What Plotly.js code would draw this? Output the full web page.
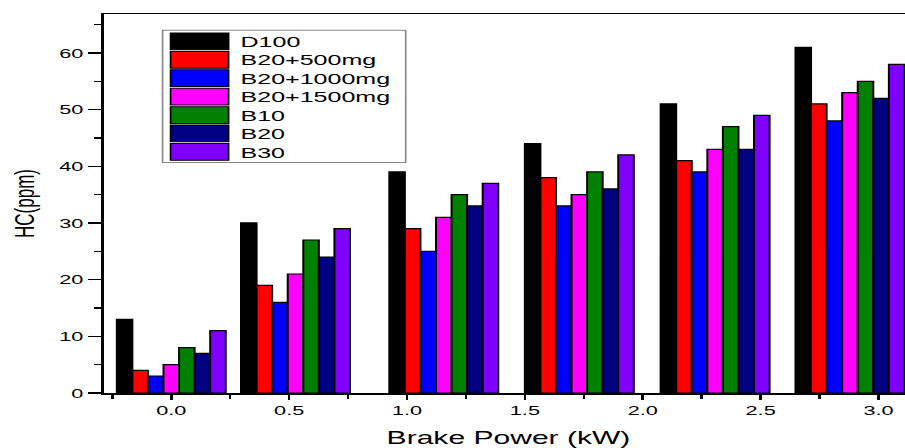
<!DOCTYPE html>
<html><head><meta charset="utf-8">
<script src="https://cdn.plot.ly/plotly-3.0.1.min.js"></script>
<style>
html,body{margin:0;padding:0;overflow:hidden;background:#fff;}
#chart{width:547px;height:448px;transform:scaleX(1.67);transform-origin:0 0;}
</style></head><body>
<div id="chart"></div>
<script>
// ---- data ----
const brakePower = [0, 0.527, 1.156, 1.731, 2.307, 2.879];
const seriesNames = ['D100', 'B20+500mg', 'B20+1000mg', 'B20+1500mg', 'B10', 'B20', 'B30'];
const seriesColors = ['#000000', '#ff0000', '#0000ff', '#ff00ff', '#008000', '#000080', '#8000ff'];
const d100     = [13, 30, 39, 44, 51, 61];
const b20_500  = [4, 19, 29, 38, 41, 51];
const b20_1000 = [3, 16, 25, 33, 39, 48];
const b20_1500 = [5, 21, 31, 35, 43, 53];
const b10      = [8, 27, 35, 39, 47, 55];
const b20      = [7, 24, 33, 36, 43, 52];
const b30      = [11, 29, 37, 42, 49, 58];
const xTickVals = [0, 0.5, 1, 1.5, 2, 2.5, 3];
const xTickText = ['0.0', '0.5', '1.0', '1.5', '2.0', '2.5', '3.0'];
const yTickVals = [0, 10, 20, 30, 40, 50, 60];
const xTitle = 'Brake Power (kW)';
const yTitle = 'HC(ppm)';
const seriesValues = [d100, b20_500, b20_1000, b20_1500, b10, b20, b30];

// ---- geometry ----
const K = 1.67, W = 547, H = 448;
const L = 104 / K, T = 13.7, B = 55;
const plotW = W - L, plotH = H - T - B;
const pxPerUnit = 235.6;            // screen px per x unit
const x0 = (104 - 171.7) / pxPerUnit;
const x1 = x0 + plotW * K / pxPerUnit;
const yMax = plotH / 5.672;
const FONT = 'Arial, "Liberation Sans", sans-serif';

const traces = seriesNames.map((name, i) => ({
  type: 'bar', name: name, x: brakePower, y: seriesValues[i],
  marker: {color: seriesColors[i], line: {color: '#000', width: 1.2}},
  showlegend: false, hoverinfo: 'skip'
}));

// legend drawn as shapes + annotations (screen px -> paper)
const sx = p => (p / K - L) / plotW;
const sy = p => 1 - (p - T) / plotH;
const shapes = [{type: 'rect', xref: 'paper', yref: 'paper',
  x0: sx(163), x1: sx(406), y0: sy(30), y1: sy(162.3),
  line: {color: '#888', width: 1}, fillcolor: '#fff', layer: 'above'}];
const annotations = [];
seriesNames.forEach((name, i) => {
  const top = 32.7 + 18.43 * i;
  shapes.push({type: 'rect', xref: 'paper', yref: 'paper',
    x0: sx(171), x1: sx(229), y0: sy(top), y1: sy(top + 16.8),
    line: {color: '#000', width: 1}, fillcolor: seriesColors[i], layer: 'above'});
  annotations.push({xref: 'paper', yref: 'paper', x: sx(237), y: sy(top + 8.6),
    xanchor: 'left', yanchor: 'middle', showarrow: false, text: name,
    font: {family: FONT, size: 15, color: '#000'}});
});

const layout = {
  width: W, height: H,
  margin: {l: L, r: 0, t: T, b: B, pad: 0},
  paper_bgcolor: '#fff', plot_bgcolor: '#fff',
  barmode: 'group', bargap: 0.123, bargroupgap: 0,
  font: {family: FONT, color: '#000'},
  xaxis: {
    range: [x0, x1], tickmode: 'array', tickvals: xTickVals, ticktext: xTickText,
    ticks: 'outside', ticklen: 5, tickwidth: 1.5, tickcolor: '#000',
    minor: {tickmode: 'linear', tick0: 0.25, dtick: 0.5, ticks: 'outside', ticklen: 4, tickwidth: 1.5, tickcolor: '#000'},
    showline: true, linewidth: 1.5, linecolor: '#000', mirror: true,
    showgrid: false, zeroline: false, automargin: false,
    tickfont: {family: FONT, size: 13, color: '#000'},
    title: {text: xTitle, font: {family: FONT, size: 18, color: '#000'}, standoff: 15}
  },
  yaxis: {
    range: [0, yMax], tickmode: 'array', tickvals: yTickVals,
    ticks: 'outside', ticklen: 8, tickwidth: 1.5, tickcolor: '#000',
    minor: {tickmode: 'linear', tick0: 5, dtick: 10, ticks: 'outside', ticklen: 4, tickwidth: 1.5, tickcolor: '#000'},
    showline: true, linewidth: 1.5, linecolor: '#000',
    showgrid: false, zeroline: false, automargin: false,
    tickfont: {family: FONT, size: 13, color: '#000'},
    title: {text: yTitle, font: {family: FONT, size: 17, color: '#000'}, standoff: 10}
  },
  shapes: shapes, annotations: annotations
};

Plotly.newPlot('chart', traces, layout, {displayModeBar: false, staticPlot: true});
</script>
</body></html>
